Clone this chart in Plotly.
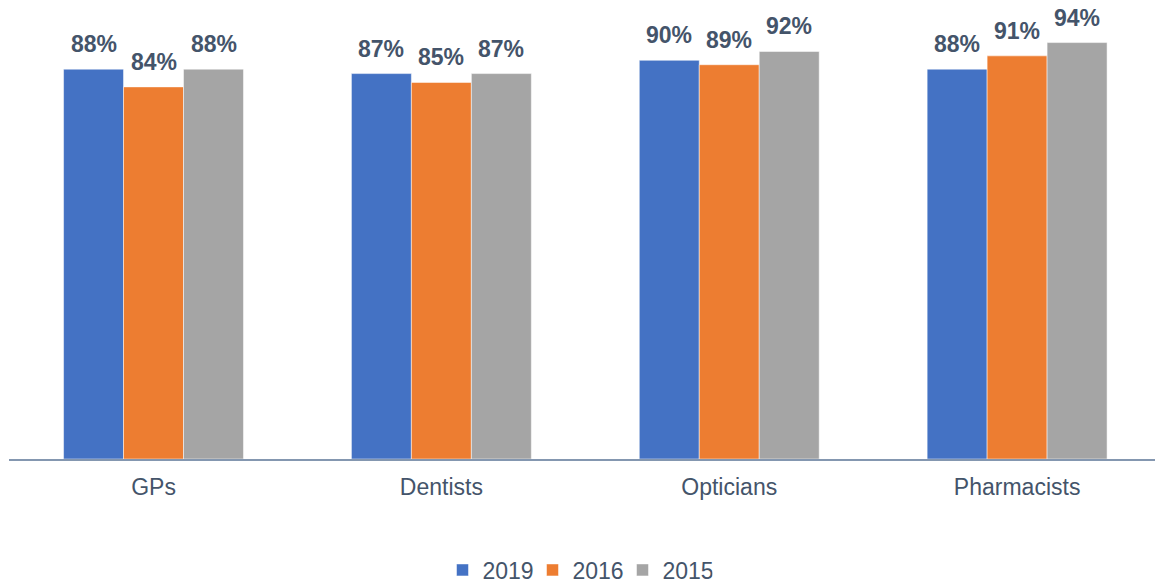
import plotly.graph_objects as go

categories = ["GPs", "Dentists", "Opticians", "Pharmacists"]
years = ["2019", "2016", "2015"]
values_2019 = [88, 87, 90, 88]
values_2016 = [84, 85, 89, 91]
values_2015 = [88, 87, 92, 94]
colors = ["#4472c4", "#ed7d31", "#a5a5a5"]

series = [values_2019, values_2016, values_2015]

fig = go.Figure()
for name, vals, col in zip(years, series, colors):
    fig.add_trace(go.Bar(
        x=categories, y=vals, name=name,
        marker=dict(color=col, line=dict(color="white", width=0.5)),
    ))

# value labels above each bar
bar_px = 60
for i, vals in enumerate(series):
    for cat, v in zip(categories, vals):
        fig.add_annotation(
            x=cat, y=v, xref="x", yref="y",
            text=f"<b>{v}%</b>", showarrow=False,
            xanchor="center", yanchor="middle",
            xshift=(i - 1) * bar_px, yshift=25,
            font=dict(family="Liberation Sans, Arial", size=23, color="#44546a"),
        )

fig.update_layout(
    width=1155, height=585,
    margin=dict(l=9, r=0, t=16, b=126, autoexpand=False),
    barmode="group", bargap=0.375, bargroupgap=0,
    plot_bgcolor="white", paper_bgcolor="white",
    font=dict(family="Liberation Sans, Arial", size=23, color="#44546a"),
    xaxis=dict(range=[-0.502, 3.479], showline=True, linecolor="#8497b0", linewidth=2,
               ticks="", showgrid=False, ticklabelstandoff=6,
               tickfont=dict(size=23, color="#44546a")),
    yaxis=dict(range=[0, 100], visible=False, showgrid=False),
    legend=dict(orientation="h", xref="container", yref="container",
                x=0.5, xanchor="center", y=15/585, yanchor="middle",
                itemwidth=30, entrywidth=45, entrywidthmode="pixels",
                font=dict(size=23, color="#44546a"), traceorder="normal"),
    showlegend=True,
)

fig.write_html("out.html", config={"displayModeBar": False},
               post_script="document.body.style.margin='0';")
